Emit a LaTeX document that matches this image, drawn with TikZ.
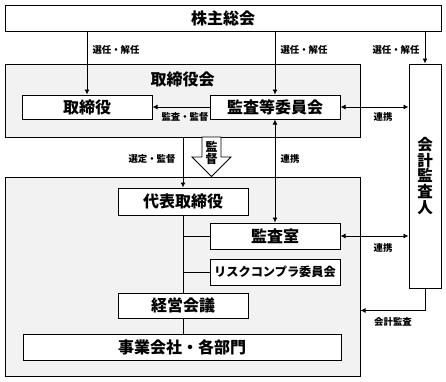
\documentclass[tikz,border=0pt]{standalone}
\usepackage{fontspec}
\setmainfont{Noto Sans CJK JP}
\usetikzlibrary{arrows.meta,calc}
\definecolor{grp}{HTML}{F2F2F2}
\begin{document}
\begin{tikzpicture}[x=1pt,y=-1pt,
  every node/.style={font=\bfseries},
  box/.style={draw,line width=1pt,fill=white,inner sep=0pt,font=\bfseries\fontsize{16}{16}\selectfont},
  grpbox/.style={draw,line width=1pt,fill=grp,inner sep=0pt},
  lbl/.style={font=\bfseries\fontsize{9.4}{9.4}\selectfont,inner sep=1pt},
  conn/.style={line width=0.9pt},
  arr/.style={line width=0.9pt,-{Latex[length=5pt,width=5pt]}},
  darr/.style={line width=0.9pt,{Latex[length=5pt,width=5pt]}-{Latex[length=5pt,width=5pt]}}
]
\useasboundingbox (0,0) rectangle (446,381);
% groups
\node[grpbox,minimum width=355pt,minimum height=73pt] (bod) at (182.5,100.5) {};
\node[grpbox,minimum width=355pt,minimum height=199pt] (exec) at (182.5,276.5) {};
\node[font=\bfseries\fontsize{16}{16}\selectfont] (bodtitle) at (182.5,79) {取締役会};
% boxes
\node[box,minimum width=436pt,minimum height=26pt] (soukai) at (223,18) {株主総会};
\node[box,minimum width=130pt,minimum height=24pt] (tori) at (87,107) {取締役};
\node[box,minimum width=130pt,minimum height=24pt] (kansaiin) at (275,107) {監査等委員会};
\node[box,minimum width=32pt,minimum height=224pt,align=center,font=\bfseries\fontsize{15.5}{15.7}\selectfont] (kaikei) at (425,176) {会\\計\\監\\査\\人};
\node[box,minimum width=130pt,minimum height=27pt] (daihyo) at (183,201.5) {代表取締役};
\node[box,minimum width=130pt,minimum height=26pt] (kansashitsu) at (275,236) {監査室};
\node[box,minimum width=130pt,minimum height=26pt,font=\bfseries\fontsize{12.2}{12.2}\selectfont] (risk) at (275,272) {リスクコンプラ委員会};
\node[box,minimum width=130pt,minimum height=25pt] (keiei) at (183,305.5) {経営会議};
\node[box,minimum width=318pt,minimum height=26pt] (jigyo) at (182,347) {事業会社・各部門};
% arrows from shareholders
\draw[arr] (soukai.south -| tori.north) -- (tori.north);
\draw[arr] (soukai.south -| kansaiin.north) -- (kansaiin.north);
\draw[arr] (soukai.south -| kaikei.north) -- (kaikei.north);
\node[lbl] (l1) at (116,50) {選任・解任};
\node[lbl] (l2) at (304,50) {選任・解任};
\node[lbl] (l3) at (396,50) {選任・解任};
% audit committee
\draw[arr] (kansaiin.west) -- (tori.east);
\node[lbl] (l4) at (185,117) {監査・監督};
\draw[darr] (kansaiin.east) -- (kansaiin.east -| kaikei.west);
\node[lbl] (l5) at (383,117) {連携};
\draw[darr] (kansaiin.south) -- (kansashitsu.north);
\node[lbl] (l6) at (290,159) {連携};
\draw[darr] (kansashitsu.east) -- (kansashitsu.east -| kaikei.west);
\node[lbl] (l7) at (383,248) {連携};
% board to representative
\draw[arr] (daihyo.north |- bod.south) -- (daihyo.north);
\node[lbl] (l8) at (152,159) {選定・監督};
% block arrow
\draw[line width=0.9pt,fill=white,line join=miter] (202,137) -- (202,157) -- (192,157) -- (211.5,176.5) -- (231,157) -- (221,157) -- (221,137) -- cycle;
\node[align=center,inner sep=0pt,font=\bfseries\fontsize{12}{12.5}\selectfont] (kantoku) at (211.5,153) {監\\督};
% internal lines
\draw[conn] (daihyo.south) -- (keiei.north);
\draw[conn] (keiei.south) -- (keiei.south |- jigyo.north);
\draw[conn] (daihyo.south |- kansashitsu.west) -- (kansashitsu.west);
\draw[conn] (daihyo.south |- risk.west) -- (risk.west);
% accounting audit
\coordinate (c1) at ($(kaikei.south)+(0,22)$);
\draw[arr] (kaikei.south) -- (c1) -- (c1 -| exec.east);
\node[lbl] (l9) at (393,322) {会計監査};
\end{tikzpicture}
\end{document}
